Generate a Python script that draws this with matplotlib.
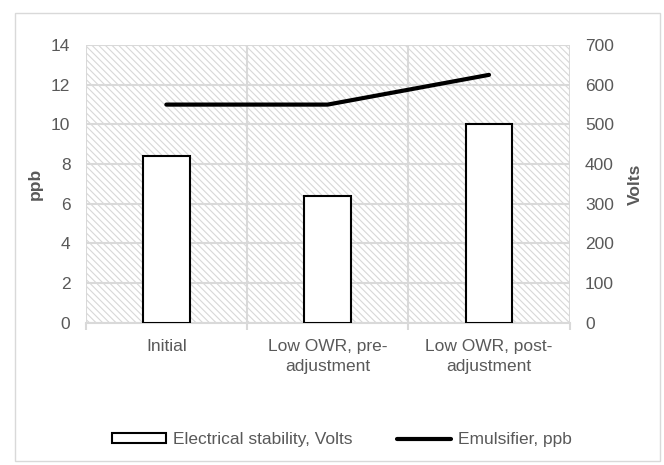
import matplotlib
matplotlib.use("Agg")
import matplotlib.pyplot as plt
from matplotlib.patches import Rectangle
import numpy as np

# Data
categories = ["Initial", "Low OWR, pre-\nadjustment", "Low OWR, post-\nadjustment"]
stability_volts = [420, 320, 500]
emulsifier_ppb = [11.0, 11.0, 12.5]
ppb_ticks = [0, 2, 4, 6, 8, 10, 12, 14]
volt_ticks = [0, 100, 200, 300, 400, 500, 600, 700]

plt.rcParams['font.family'] = ['Liberation Sans', 'DejaVu Sans']
plt.rcParams['hatch.linewidth'] = 0.8
text_color = '#595959'
grid_color = '#d9d9d9'
fs = 12.5

fig = plt.figure(figsize=(6.64, 4.65), dpi=100)
fig.patch.set_facecolor('white')

# chart border
fig.add_artist(Rectangle((15 / 664, 1 - 461 / 465), (660 - 15) / 664, (461 - 13) / 465,
                         transform=fig.transFigure, fill=False,
                         edgecolor=grid_color, linewidth=1.0))

ax = fig.add_axes([0.129, 0.306, 0.729, 0.597])
ax2 = ax.twinx()
x = np.arange(len(categories))

# hatched plot area
ax.add_patch(Rectangle((0, 0), 1, 1, transform=ax.transAxes, facecolor='white',
                       edgecolor='#d8d8d8', hatch='\\\\\\\\\\', linewidth=0, zorder=0.1))

ax.set_xlim(-0.5, len(categories) - 0.5)
ax.set_ylim(ppb_ticks[0], ppb_ticks[-1])
ax2.set_ylim(volt_ticks[0], volt_ticks[-1])
ax.set_yticks(ppb_ticks)
ax2.set_yticks(volt_ticks)

ax.set_axisbelow(True)
ax.grid(axis='y', color=grid_color, linewidth=1.5, zorder=0.5)
ax.set_xticks(x, categories)
ax.set_xticks(np.arange(len(categories) + 1) - 0.5, minor=True)
ax.grid(axis='x', which='minor', color=grid_color, linewidth=1.5)
ax.grid(axis='x', which='major', visible=False)

for a in (ax, ax2):
    for s in a.spines.values():
        s.set_visible(False)
ax.spines['bottom'].set_visible(True)
ax.spines['bottom'].set_color(grid_color)
ax.spines['bottom'].set_linewidth(1.5)

ax.tick_params(axis='x', which='major', length=0, pad=12, labelsize=fs, labelcolor=text_color)
ax.tick_params(axis='x', which='minor', length=5, width=1.5, color=grid_color)
ax.tick_params(axis='y', length=0, pad=11, labelsize=fs, labelcolor=text_color)
ax2.tick_params(axis='y', length=0, pad=11, labelsize=fs, labelcolor=text_color)
for lbl in ax.get_xticklabels():
    lbl.set_linespacing(1.35)

bars = ax2.bar(x, stability_volts, width=0.29, color='white', edgecolor='black',
               linewidth=1.5, label='Electrical stability, Volts', zorder=2)
line, = ax.plot(x, emulsifier_ppb, color='black', linewidth=3,
                solid_capstyle='round', label='Emulsifier, ppb', zorder=3)

yc = 1 - (45 + 322.7) / 2 / 465
fig.text(35 / 664, yc, 'ppb', rotation=90, ha='center', va='center',
         fontsize=fs, fontweight='bold', color=text_color)
fig.text(635 / 664, yc, 'Volts', rotation=90, ha='center', va='center',
         fontsize=fs, fontweight='bold', color=text_color)

fig.legend([bars, line], [bars.get_label(), line.get_label()], loc='center',
           bbox_to_anchor=(0.515, 0.054), ncol=2, frameon=False,
           handlelength=3.1, handleheight=0.5, handletextpad=0.4,
           columnspacing=2.6, fontsize=fs, labelcolor=text_color)

fig.savefig('out.png', dpi=100, facecolor='white')
